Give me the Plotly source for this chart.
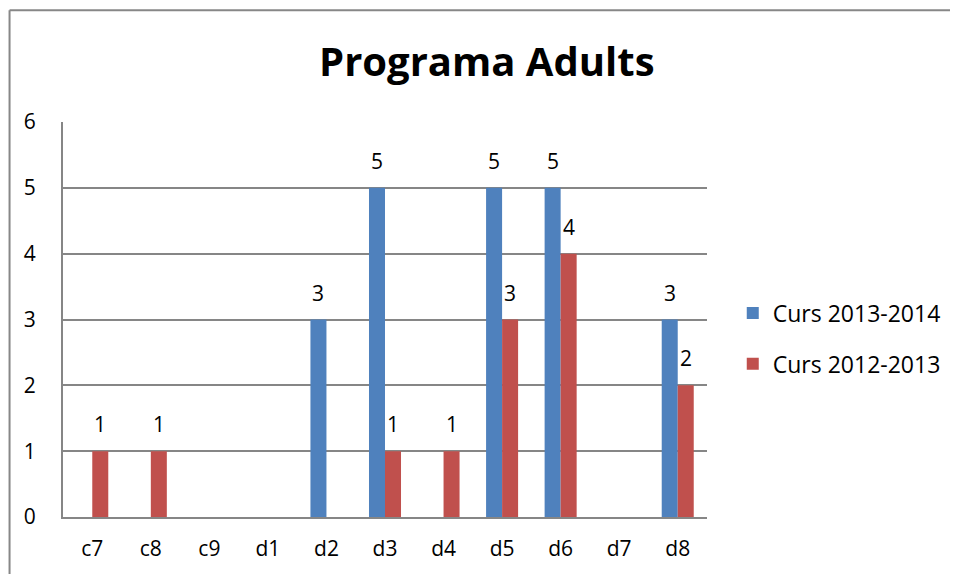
import plotly.graph_objects as go

categories = ["c7", "c8", "c9", "d1", "d2", "d3", "d4", "d5", "d6", "d7", "d8"]
curs_2013_2014 = [None, None, None, None, 3, 5, None, 5, 5, None, 3]
curs_2012_2013 = [1, 1, None, None, None, 1, 1, 3, 4, None, 2]

BLUE = "#4F81BD"
RED = "#C0504D"
GRID = "#868686"
FONT = "Open Sans"

fig = go.Figure()
fig.add_trace(go.Bar(
    x=categories, y=curs_2013_2014, name="Curs 2013-2014",
    marker=dict(color=BLUE, line=dict(width=0)), legendgroup="a",
))
fig.add_trace(go.Bar(
    x=categories, y=curs_2012_2013, name="Curs 2012-2013",
    marker=dict(color=RED, line=dict(width=0)), legendgroup="b",
))

# value labels above each bar
for series, dx in ((curs_2013_2014, -0.137), (curs_2012_2013, 0.137)):
    for i, v in enumerate(series):
        if v is None:
            continue
        fig.add_annotation(
            x=i + dx, y=v, text=str(v), showarrow=False,
            yanchor="bottom", yshift=11, font=dict(size=21, color="black", family=FONT),
        )

# outer chart frame: only left and top sides are inside the picture
frame = dict(color="#878787", width=2)
fig.add_shape(type="line", xref="paper", yref="paper",
              x0=-0.083, x1=-0.083, y0=-0.5, y1=1.283, line=frame, layer="below")
fig.add_shape(type="line", xref="paper", yref="paper",
              x0=-0.083, x1=2.0, y0=1.283, y1=1.283, line=frame, layer="below")

# page body adds an 8px offset
fig.update_layout(
    width=950, height=566,
    margin=dict(l=55, r=251, t=114, b=55),
    paper_bgcolor="white", plot_bgcolor="white",
    title=dict(
        text="<b>Programa Adults</b>", x=0.504, xanchor="center",
        y=1 - 54 / 566, yanchor="middle",
        font=dict(size=40, color="black", family=FONT),
    ),
    font=dict(family=FONT, size=21, color="black"),
    barmode="group", bargap=0.453, bargroupgap=0,
    xaxis=dict(
        type="category", range=[-0.5, 10.5], showgrid=False,
        showline=True, linecolor=GRID, linewidth=2, ticks="",
        ticklabelstandoff=12, tickfont=dict(size=21),
    ),
    yaxis=dict(
        range=[0, 6], dtick=1, showgrid=True, gridcolor=GRID, gridwidth=1.5,
        showline=True, linecolor=GRID, linewidth=2, ticks="",
        zeroline=False, ticklabelstandoff=21, tickfont=dict(size=21),
    ),
    legend=dict(
        x=1.04, xanchor="left", y=0.452, yanchor="middle",
        font=dict(size=23), tracegroupgap=18, traceorder="grouped",
        itemwidth=30,
    ),
    showlegend=True,
)

fig.write_html("out.html")
